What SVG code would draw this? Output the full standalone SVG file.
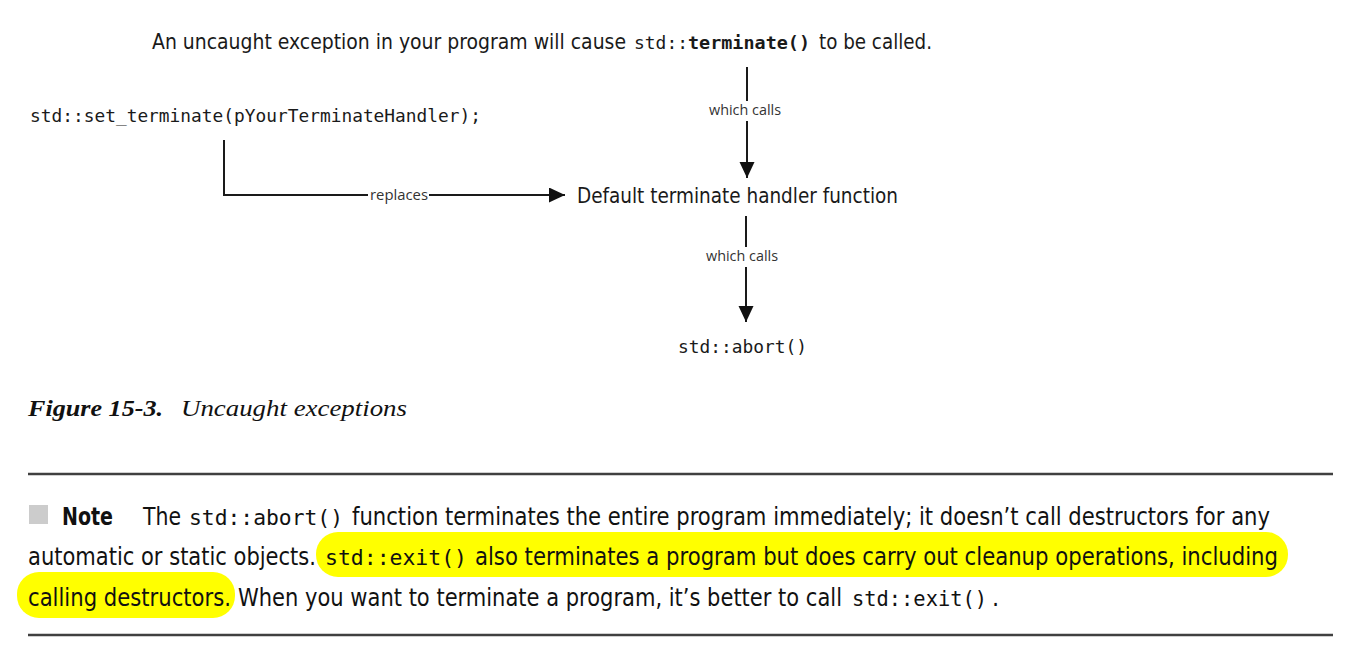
<svg xmlns="http://www.w3.org/2000/svg" width="1358" height="664" viewBox="0 0 1358 664">
  <style>
    .sans { font-family: "Liberation Sans Narrow", "DejaVu Sans Condensed", "Liberation Sans", sans-serif; fill: #1a1a1a; }
    .mono { font-family: "DejaVu Sans Mono", "Liberation Mono", monospace; fill: #1a1a1a; }
    .lbl { font-family: "Open Sans", "Liberation Sans", sans-serif; font-size: 14px; fill: #333; }
    .cap { font-family: "Liberation Serif", serif; font-style: italic; font-size: 23px; fill: #111; }
    .body { font-family: "Liberation Sans Narrow", "DejaVu Sans Condensed", "Liberation Sans", sans-serif; font-size: 25px; fill: #111; }
    .bmono { font-family: "DejaVu Sans Mono", "Liberation Mono", monospace; font-size: 21px; fill: #111; }
    .wire { fill: none; stroke: #1a1a1a; stroke-width: 2; }
    .rule { stroke: #404040; stroke-width: 2.5; }
    .hl { fill: #ffff00; }
  </style>
  <defs>
    <marker id="arrow" markerUnits="userSpaceOnUse" markerWidth="17" markerHeight="16" refX="16" refY="7.5" orient="auto">
      <path d="M0,0 L16,7.5 L0,15 z" fill="#111"/>
    </marker>
  </defs>

  <rect width="1358" height="664" fill="#ffffff"/>

  <!-- top statement -->
  <g id="node-uncaught">
    <text class="sans" x="152" y="49" font-size="21" textLength="474" lengthAdjust="spacingAndGlyphs">An uncaught exception in your program will cause</text>
    <text class="mono" x="634" y="49" font-size="18" textLength="54" lengthAdjust="spacingAndGlyphs">std::</text>
    <text class="mono" x="688" y="49" font-size="18" font-weight="bold" textLength="122" lengthAdjust="spacingAndGlyphs">terminate()</text>
    <text class="sans" x="819" y="49" font-size="21" textLength="113" lengthAdjust="spacingAndGlyphs">to be called.</text>
  </g>

  <g id="node-set-terminate">
    <text class="mono" x="30" y="122" font-size="18.5" textLength="451" lengthAdjust="spacingAndGlyphs">std::set_terminate(pYourTerminateHandler);</text>
  </g>

  <g id="node-default-handler">
    <text class="sans" x="577" y="203" font-size="21.5" textLength="321" lengthAdjust="spacingAndGlyphs">Default terminate handler function</text>
  </g>

  <g id="node-abort">
    <text class="mono" x="678" y="353" font-size="18.5" textLength="129" lengthAdjust="spacingAndGlyphs">std::abort()</text>
  </g>

  <!-- connectors -->
  <g id="connectors">
    <line class="wire" x1="747" y1="67" x2="747" y2="101"/>
    <text class="lbl" x="745" y="115" text-anchor="middle" textLength="72" lengthAdjust="spacingAndGlyphs">which calls</text>
    <line class="wire" x1="747" y1="121" x2="747" y2="178" marker-end="url(#arrow)"/>

    <path class="wire" d="M224,140 V195 H368"/>
    <text class="lbl" x="370" y="199.5" font-size="12" textLength="58" lengthAdjust="spacingAndGlyphs">replaces</text>
    <path class="wire" d="M429,195 H565" marker-end="url(#arrow)"/>

    <line class="wire" x1="746" y1="216" x2="746" y2="247"/>
    <text class="lbl" x="742" y="261" text-anchor="middle" textLength="72" lengthAdjust="spacingAndGlyphs">which calls</text>
    <line class="wire" x1="746" y1="267" x2="746" y2="322" marker-end="url(#arrow)"/>
  </g>

  <!-- caption -->
  <g id="caption">
    <text class="cap" x="28" y="416" font-weight="bold" textLength="135" lengthAdjust="spacingAndGlyphs">Figure 15-3.</text>
    <text class="cap" x="181" y="416" textLength="226" lengthAdjust="spacingAndGlyphs">Uncaught exceptions</text>
  </g>

  <!-- note box -->
  <g id="note">
    <line class="rule" x1="28" y1="474" x2="1333" y2="474"/>
    <line class="rule" x1="28" y1="635" x2="1333" y2="635"/>

    <rect class="hl" x="316" y="532" width="972" height="45" rx="22"/>
    <rect class="hl" x="17" y="572" width="218" height="46" rx="22"/>

    <rect x="29" y="505" width="19" height="19" fill="#cccccc"/>
    <text class="body" x="62" y="525" font-weight="bold" textLength="51" lengthAdjust="spacingAndGlyphs">Note</text>
    <text class="body" x="143" y="525" textLength="38" lengthAdjust="spacingAndGlyphs">The</text>
    <text class="bmono" x="189" y="525" textLength="154" lengthAdjust="spacingAndGlyphs">std::abort()</text>
    <text class="body" x="352" y="525" textLength="918" lengthAdjust="spacingAndGlyphs">function terminates the entire program immediately; it doesn’t call destructors for any</text>

    <text class="body" x="28" y="565" textLength="288" lengthAdjust="spacingAndGlyphs">automatic or static objects.</text>
    <text class="bmono" x="325" y="565" textLength="142" lengthAdjust="spacingAndGlyphs">std::exit()</text>
    <text class="body" x="475" y="565" textLength="803" lengthAdjust="spacingAndGlyphs">also terminates a program but does carry out cleanup operations, including</text>

    <text class="body" x="28" y="606" textLength="203" lengthAdjust="spacingAndGlyphs">calling destructors.</text>
    <text class="body" x="238" y="606" font-size="23.3" textLength="604" lengthAdjust="spacingAndGlyphs">When you want to terminate a program, it’s better to call</text>
    <text class="bmono" x="852" y="606" textLength="135" lengthAdjust="spacingAndGlyphs">std::exit()</text>
    <text class="body" x="992" y="606">.</text>
  </g>
</svg>
